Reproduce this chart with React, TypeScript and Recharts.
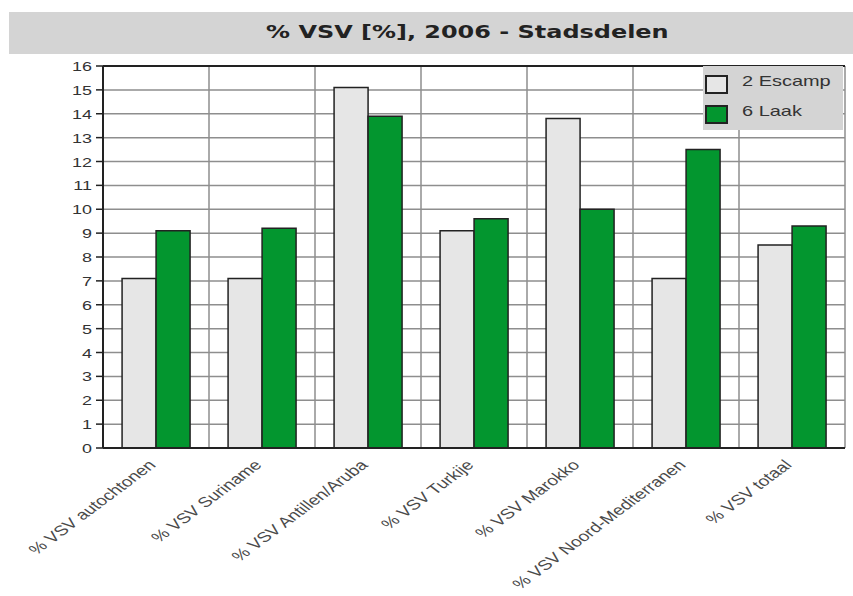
import React from 'react';
import {
  BarChart,
  Bar,
  XAxis,
  YAxis,
  CartesianGrid,
  Legend,
  ReferenceLine,
} from 'recharts';

const categories = [
  '% VSV autochtonen',
  '% VSV Suriname',
  '% VSV Antillen/Aruba',
  '% VSV Turkije',
  '% VSV Marokko',
  '% VSV Noord-Mediterranen',
  '% VSV totaal',
];
const escamp = [7.1, 7.1, 15.1, 9.1, 13.8, 7.1, 8.5];
const laak = [9.1, 9.2, 13.9, 9.6, 10.0, 12.5, 9.3];
const seriesNames = ['2 Escamp', '6 Laak'];
const seriesColors = ['#e6e6e6', '#03962f'];
const yTicks = [0, 1, 2, 3, 4, 5, 6, 7, 8, 9, 10, 11, 12, 13, 14, 15, 16];
const title = '% VSV [%], 2006 - Stadsdelen';

const data = categories.map((name, i) => ({ name, escamp: escamp[i], laak: laak[i] }));

// the source image is stretched sideways, so text gets the same stretch
const STRETCH = 1.33;
const FONT = '"Liberation Sans", Arial, sans-serif';

const XTick = ({ x, y, payload }: any) => (
  <g transform={`translate(${x - 3},${y + 7})`}>
    <text
      transform={`scale(1.34,1) rotate(-45)`}
      textAnchor="end"
      x={0}
      y={0}
      dy={4}
      fontSize={14.2}
      fontFamily={FONT}
      fill="#4a4a4a"
    >
      {payload.value}
    </text>
  </g>
);

const YTick = ({ x, y, payload }: any) => (
  <g transform={`translate(${x},${y})`}>
    <text
      transform={`scale(${STRETCH},1)`}
      textAnchor="end"
      x={0}
      y={0}
      dy={5}
      fontSize={13.5}
      fontFamily={FONT}
      fill="#333"
    >
      {payload.value}
    </text>
  </g>
);

const LegendBox = () => (
  <div style={{ position: 'relative', width: 140, height: 64, background: '#d4d4d4' }}>
    {seriesNames.map((n, i) => (
      <div key={n}>
        <div
          style={{
            position: 'absolute',
            left: 2,
            top: 9 + i * 30,
            width: 19,
            height: 15,
            background: seriesColors[i],
            border: '2px solid #222',
          }}
        />
        <div
          style={{
            position: 'absolute',
            left: 39,
            top: 6 + i * 30,
            fontSize: 15,
            fontFamily: FONT,
            color: '#333',
            whiteSpace: 'nowrap',
            transform: `scaleX(${STRETCH})`,
            transformOrigin: 'left center',
          }}
        >
          {n}
        </div>
      </div>
    ))}
  </div>
);

const boundaries = ({ offset }: any) => {
  const xs: number[] = [];
  for (let i = 1; i <= categories.length; i++) {
    xs.push(offset.left + (i * offset.width) / categories.length);
  }
  return xs;
};

export default function App() {
  return (
    <div style={{ position: 'absolute', left: 0, top: 0, width: 853, height: 596, background: '#fff' }}>
      <div
        style={{
          position: 'absolute',
          left: 9,
          top: 12,
          width: 844,
          height: 42,
          background: '#d4d4d4',
        }}
      >
        <div
          style={{
            position: 'absolute',
            left: 72,
            right: 0,
            top: 0,
            height: 38,
            display: 'flex',
            alignItems: 'center',
            justifyContent: 'center',
          }}
        >
          <span
            style={{
              display: 'inline-block',
              fontFamily: '"DejaVu Sans", Verdana, sans-serif',
              fontWeight: 'bold',
              fontSize: 18,
              color: '#222',
              whiteSpace: 'nowrap',
              transform: `scaleX(${STRETCH})`,
            }}
          >
            {title}
          </span>
        </div>
      </div>
      <div style={{ position: 'absolute', left: 0, top: 0 }}>
        <BarChart
          width={853}
          height={596}
          data={data}
          margin={{ top: 66, right: 8, left: 0, bottom: 0 }}
          barCategoryGap="18%"
          barGap={0}
        >
          <CartesianGrid
            stroke="#8e8e8e"
            strokeWidth={1.5}
            verticalCoordinatesGenerator={boundaries}
          />
          <XAxis
            dataKey="name"
            height={148}
            interval={0}
            tickLine={false}
            axisLine={{ stroke: '#222', strokeWidth: 2 }}
            tick={<XTick />}
          />
          <YAxis
            width={103}
            domain={[0, 16]}
            ticks={yTicks}
            interval={0}
            tickSize={7}
            tickMargin={4}
            tickLine={{ stroke: '#222', strokeWidth: 1.5 }}
            axisLine={{ stroke: '#222', strokeWidth: 2 }}
            tick={<YTick />}
          />
          <YAxis
            yAxisId="frame"
            orientation="right"
            width={0}
            tick={false}
            tickLine={false}
            axisLine={{ stroke: '#222', strokeWidth: 2 }}
          />
          <ReferenceLine y={16} stroke="#222" strokeWidth={2} />
          <Legend
            layout="vertical"
            align="center"
            verticalAlign="middle"
            content={<LegendBox />}
            wrapperStyle={{ left: 703, top: 66, width: 140, height: 64 }}
          />
          <Bar
            dataKey="escamp"
            name={seriesNames[0]}
            fill={seriesColors[0]}
            stroke="#222"
            strokeWidth={1.5}
            isAnimationActive={false}
          />
          <Bar
            dataKey="laak"
            name={seriesNames[1]}
            fill={seriesColors[1]}
            stroke="#222"
            strokeWidth={1.5}
            isAnimationActive={false}
          />
        </BarChart>
      </div>
    </div>
  );
}
